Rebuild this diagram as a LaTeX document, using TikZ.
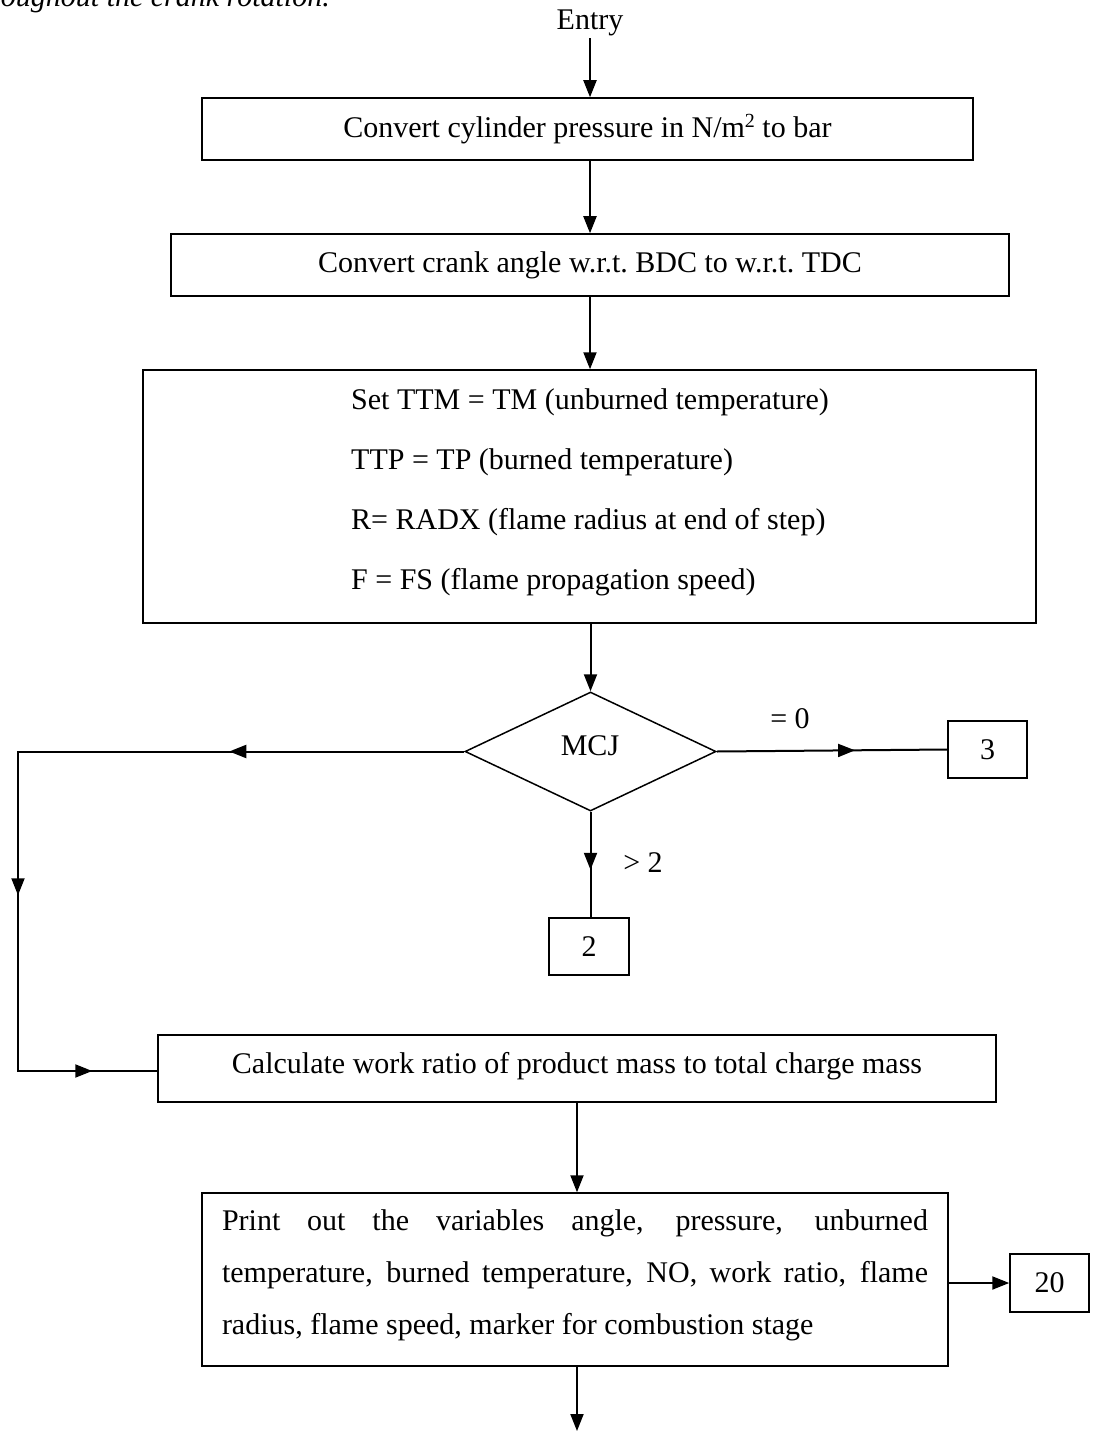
\documentclass[tikz,border=0pt]{standalone}
\usepackage{fontspec}
\setmainfont{Liberation Serif}
\usetikzlibrary{shapes.geometric,arrows.meta,decorations.markings}
\begin{document}
\begin{tikzpicture}[x=1pt,y=-1pt,
  font=\fontsize{30}{36}\selectfont,
  box/.style={draw, line width=1.5pt, inner sep=0pt, rectangle},
  flow/.style={line width=2pt, -{Triangle[length=17pt,width=13pt]}},
  conn/.style={line width=2pt},
  midarrow/.style={postaction={decorate},
    decoration={markings, mark=at position #1 with {\arrow{Triangle[length=17pt,width=13pt]}}}},
]
\useasboundingbox (0,0) rectangle (1093,1431);
\clip (0,0) rectangle (1093,1431);

% running text above the chart (cut by the page edge)
\node[anchor=base east, inner sep=0pt, font=\fontsize{30}{36}\selectfont\itshape] (prev) at (330,7) {throughout the crank rotation.};

\node[inner sep=2pt] (entry) at (590,23) {Entry};

\node[box, minimum width=771pt, minimum height=62pt] (b1) at (587.5,129)
  {Convert cylinder pressure in N/m\raisebox{0.7ex}{\fontsize{20}{20}\selectfont 2} to bar};
\node[box, minimum width=838pt, minimum height=62pt] (b2) at (590,265)
  {Convert crank angle w.r.t.\ BDC to w.r.t.\ TDC};
\node[box, minimum width=893pt, minimum height=253pt] (b3) at (589.5,496.5) {};
\node[anchor=base west, inner sep=0pt] (l1) at (351,409) {Set TTM = TM (unburned temperature)};
\node[anchor=base west, inner sep=0pt] (l2) at (351,469) {TTP = TP (burned temperature)};
\node[anchor=base west, inner sep=0pt] (l3) at (351,529) {R= RADX (flame radius at end of step)};
\node[anchor=base west, inner sep=0pt] (l4) at (351,589) {F = FS (flame propagation speed)};

\node[draw, line width=1.5pt, diamond, aspect=2.11, minimum width=251pt, minimum height=119pt, inner sep=0pt] (dia) at (590.5,751.5) {};
\node (mcj) at (590,746) {MCJ};

\node[box, minimum width=79pt, minimum height=57pt] (n3) at (987.5,749.5) {3};
\node[box, minimum width=80pt, minimum height=57pt] (n2) at (589,946.5) {2};
\node (eq0) at (790,719) {= 0};
\node (gt2) at (643,863) {> 2};

\node[box, minimum width=838pt, minimum height=67pt] (calc) at (577,1068.5) {};
\node (calct) at (577,1066) {Calculate work ratio of product mass to total charge mass};

\node[box, minimum width=746pt, minimum height=173pt] (pr) at (575,1279.5) {};
\node[inner sep=0pt, align=left, font=\fontsize{30}{52}\selectfont] (prt) at (575,1275)
  {\makebox[706pt][s]{Print out the variables angle, pressure, unburned}\\
   \makebox[706pt][s]{temperature, burned temperature, NO, work ratio, flame}\\
   radius, flame speed, marker for combustion stage};
\node[box, minimum width=79pt, minimum height=58pt] (n20) at (1049.5,1283) {20};

\coordinate (lc) at (18,751.5);
\coordinate (lb) at (18,1071);
\coordinate (exit) at (577,1431);

% connectors
\draw[flow] (entry.south) -- (entry.south |- b1.north);
\draw[flow] (b2.north |- b1.south) -- (b2.north);
\draw[flow] (b2.south) -- (b2.south |- b3.north);
\draw[flow] (dia.north |- b3.south) -- (dia.north);
\draw[conn, midarrow=0.6] (dia.east) -- (n3.west);
\draw[conn, midarrow=0.55] (dia.south) -- (dia.south |- n2.north);
\draw[conn, line join=miter,
  postaction={decorate},
  decoration={markings,
    mark=at position 235pt with {\arrow{Triangle[length=17pt,width=13pt]}},
    mark=at position 590pt with {\arrow{Triangle[length=17pt,width=13pt]}},
    mark=at position 840pt with {\arrow{Triangle[length=17pt,width=13pt]}}}]
  (dia.west) -- (lc) -- (lb) -- (lb -| calc.west);
\draw[flow] (calc.south) -- (calc.south |- pr.north);
\draw[flow] (pr.east |- n20.west) -- (n20.west);
\draw[flow] (pr.south -| exit) -- (exit);
\end{tikzpicture}
\end{document}
